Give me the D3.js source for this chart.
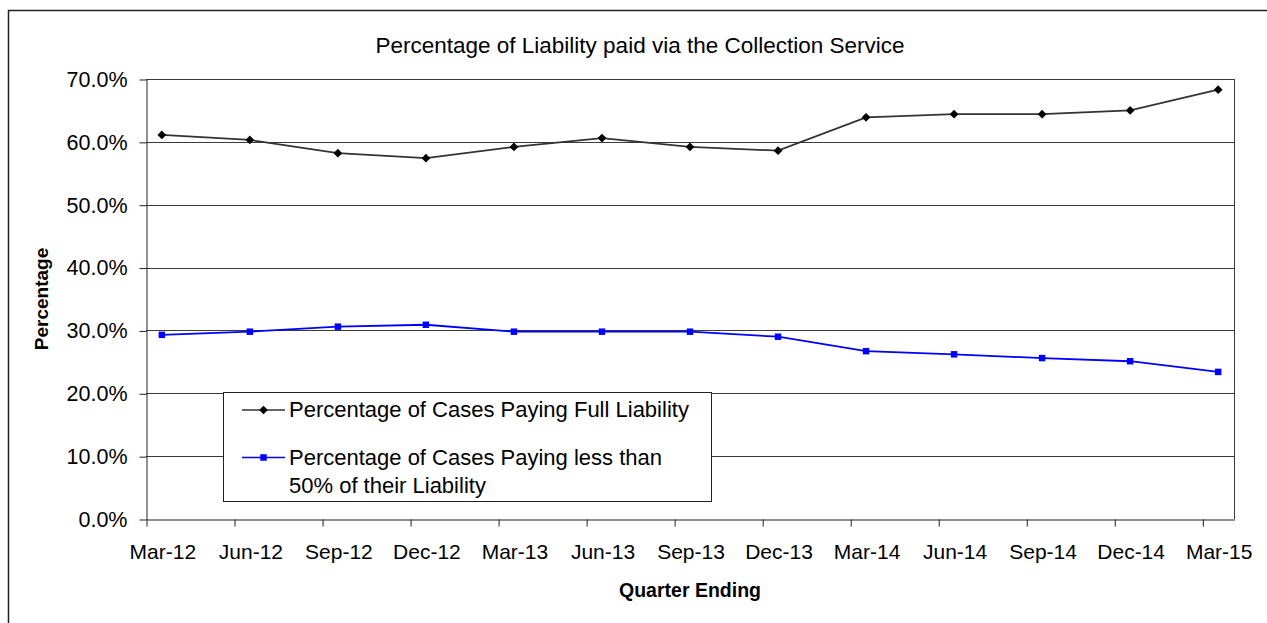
<!DOCTYPE html>
<html>
<head>
<meta charset="utf-8">
<script src="https://cdn.jsdelivr.net/npm/d3@7"></script>
<style>
  body { margin: 0; background: #fff; }
  text { font-family: "Liberation Sans", Arial, sans-serif; fill: #000; }
</style>
</head>
<body>
<svg id="chart" width="1267" height="623"></svg>
<script>
// quarter labels and the two series (percent)
const quarters = ['Mar-12', 'Jun-12', 'Sep-12', 'Dec-12', 'Mar-13', 'Jun-13', 'Sep-13',
                  'Dec-13', 'Mar-14', 'Jun-14', 'Sep-14', 'Dec-14', 'Mar-15'];
const fullLiability = [61.1, 60.3, 58.2, 57.4, 59.2, 60.6, 59.2, 58.6, 63.9, 64.4, 64.4, 65.0, 68.3];
const lessThanHalf = [29.3, 29.8, 30.6, 30.9, 29.8, 29.8, 29.8, 29.0, 26.7, 26.2, 25.6, 25.1, 23.4];
const yTicks = [0, 10, 20, 30, 40, 50, 60, 70];

const svg = d3.select('#chart');

// outer chart frame (runs off the right and bottom of the picture)
svg.append('rect')
  .attr('x', 8.5).attr('y', 10.5)
  .attr('width', 1400).attr('height', 800)
  .attr('fill', 'none').attr('stroke', '#222').attr('stroke-width', 1.5);

// scales: date-style axis, ticks sit a little before each point
const tickOff = 0.18;
const x = d3.scaleLinear().domain([-tickOff, 12.18]).range([146, 1234]);
const y = d3.scaleLinear().domain([0, 70]).range([519, 79]);

// gridlines
svg.append('g').selectAll('line')
  .data(yTicks.filter(d => d > 0))
  .enter().append('line')
  .attr('x1', x(-tickOff)).attr('x2', x(12.18))
  .attr('y1', d => Math.round(y(d)) + 0.5).attr('y2', d => Math.round(y(d)) + 0.5)
  .attr('stroke', '#3a3a3a').attr('stroke-width', 1);

// right border of plot area
svg.append('line')
  .attr('x1', x(12.18) + 0.5).attr('x2', x(12.18) + 0.5)
  .attr('y1', y(70)).attr('y2', y(0))
  .attr('stroke', '#3a3a3a');

// y axis
const yAxis = svg.append('g')
  .attr('transform', 'translate(146.5,0.5)')
  .call(d3.axisLeft(y).tickValues(yTicks).tickFormat(d => d.toFixed(1) + '%')
    .tickSize(7).tickSizeOuter(0).tickPadding(12));
yAxis.selectAll('text').attr('font-size', 21.5).style('font-family', '"Liberation Sans", Arial, sans-serif');
yAxis.selectAll('line, path').attr('stroke', '#222');

// x axis: tick marks offset, labels centred on the points
const xAxis = svg.append('g')
  .attr('transform', 'translate(0.5,' + (y(0) + 0.5) + ')')
  .call(d3.axisBottom(x).tickValues(d3.range(quarters.length).map(i => i - tickOff))
    .tickFormat((d, i) => quarters[i]).tickSize(7).tickSizeOuter(0).tickPadding(18));
xAxis.selectAll('text')
  .attr('font-size', 21)
  .style('font-family', '"Liberation Sans", Arial, sans-serif')
  .attr('dx', x(0) - x(-tickOff));
xAxis.selectAll('line, path').attr('stroke', '#222');

// series lines
const line = d3.line().x((d, i) => x(i)).y(d => y(d));

svg.append('path').datum(fullLiability)
  .attr('d', line).attr('fill', 'none')
  .attr('stroke', '#333').attr('stroke-width', 1.8);
svg.append('path').datum(lessThanHalf)
  .attr('d', line).attr('fill', 'none')
  .attr('stroke', '#0000ff').attr('stroke-width', 1.8);

const diamond = d3.symbol().type(d3.symbolSquare).size(38);
const square = d3.symbol().type(d3.symbolSquare).size(42);

svg.append('g').selectAll('path')
  .data(fullLiability).enter().append('path')
  .attr('d', diamond)
  .attr('transform', (d, i) => 'translate(' + x(i) + ',' + y(d) + ') rotate(45)')
  .attr('fill', '#000');

svg.append('g').selectAll('path')
  .data(lessThanHalf).enter().append('path')
  .attr('d', square)
  .attr('transform', (d, i) => 'translate(' + x(i) + ',' + y(d) + ')')
  .attr('fill', '#0000ff');

// titles
svg.append('text')
  .attr('x', 640).attr('y', 53)
  .attr('text-anchor', 'middle').attr('font-size', 22.5)
  .text('Percentage of Liability paid via the Collection Service');

svg.append('text')
  .attr('x', 690).attr('y', 597)
  .attr('text-anchor', 'middle').attr('font-size', 19.5).attr('font-weight', 'bold')
  .text('Quarter Ending');

svg.append('text')
  .attr('transform', 'translate(48,299) rotate(-90)')
  .attr('text-anchor', 'middle').attr('font-size', 19).attr('font-weight', 'bold')
  .text('Percentage');

// legend
const legend = svg.append('g');
legend.append('rect')
  .attr('x', 223.5).attr('y', 392.5).attr('width', 488).attr('height', 109)
  .attr('fill', '#fff').attr('stroke', '#222');

legend.append('line')
  .attr('x1', 242).attr('x2', 285).attr('y1', 410).attr('y2', 410)
  .attr('stroke', '#333').attr('stroke-width', 1.5);
legend.append('path')
  .attr('d', diamond)
  .attr('transform', 'translate(263.5,410) rotate(45)')
  .attr('fill', '#000');
legend.append('text')
  .attr('x', 289).attr('y', 417).attr('font-size', 22)
  .text('Percentage of Cases Paying Full Liability');

legend.append('line')
  .attr('x1', 242).attr('x2', 285).attr('y1', 457.5).attr('y2', 457.5)
  .attr('stroke', '#0000ff').attr('stroke-width', 1.5);
legend.append('path')
  .attr('d', square)
  .attr('transform', 'translate(263.5,457.5)')
  .attr('fill', '#0000ff');
const t2 = legend.append('text').attr('font-size', 22);
t2.append('tspan').attr('x', 289).attr('y', 465)
  .text('Percentage of Cases Paying less than');
t2.append('tspan').attr('x', 289).attr('y', 493)
  .text('50% of their Liability');
</script>
</body>
</html>
